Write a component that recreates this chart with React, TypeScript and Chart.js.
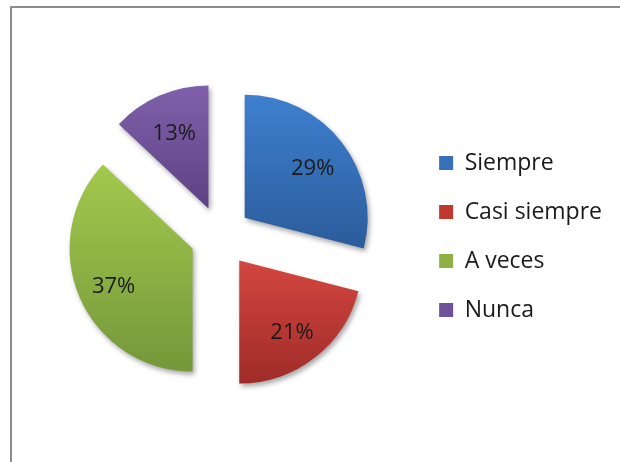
import React, { useEffect, useRef } from "react";
import { Chart, registerables } from "chart.js";

Chart.register(...registerables);

// ---- data ----
const categories = ["Siempre", "Casi siempre", "A veces", "Nunca"];
const values = [29, 21, 37, 13];

// ---- styles ----
const topColors = ["#3e80cf", "#d3473f", "#a4c94d", "#8060ab"];
const bottomColors = ["#2b5c9b", "#9f2b29", "#74983a", "#5c4283"];
const midColors = ["#3670b8", "#c0392f", "#8fb044", "#6e519a"];

const EXPLODE = 30.5;
const LABEL_R = 0.7;
const LABEL_DY = 4;
const FONT = "'Open Sans', 'DejaVu Sans', sans-serif";

const explodePlugin = {
  id: "explodeSlices",
  beforeDatasetsDraw(chart: any) {
    const ctx = chart.ctx;
    const meta = chart.getDatasetMeta(0);
    meta.data.forEach((arc: any, i: number) => {
      const { x, y, startAngle, endAngle, outerRadius } = arc.getProps([
        "x",
        "y",
        "startAngle",
        "endAngle",
        "outerRadius",
      ]);
      const mid = (startAngle + endAngle) / 2;
      const dx = Math.cos(mid) * EXPLODE;
      const dy = Math.sin(mid) * EXPLODE;
      let minY = y;
      let maxY = y;
      for (let k = 0; k <= 60; k++) {
        const a = startAngle + ((endAngle - startAngle) * k) / 60;
        const py = y + Math.sin(a) * outerRadius;
        minY = Math.min(minY, py);
        maxY = Math.max(maxY, py);
      }
      ctx.save();
      ctx.translate(dx, dy);
      const g = ctx.createLinearGradient(0, minY, 0, maxY);
      g.addColorStop(0, topColors[i]);
      g.addColorStop(1, bottomColors[i]);
      ctx.shadowColor = "rgba(0,0,0,0.35)";
      ctx.shadowBlur = 5;
      ctx.shadowOffsetX = 2;
      ctx.shadowOffsetY = 3;
      const orig = arc.options;
      arc.options = { ...orig, backgroundColor: g, borderWidth: 0, offset: 0 };
      arc.draw(ctx);
      arc.options = orig;
      ctx.restore();
    });
    return false;
  },
  afterDraw(chart: any) {
    const ctx = chart.ctx;
    const meta = chart.getDatasetMeta(0);
    const data = chart.data.datasets[0].data as number[];
    const total = data.reduce((s, v) => s + v, 0);
    ctx.save();
    ctx.font = `22px ${FONT}`;
    ctx.fillStyle = "#1b1b1b";
    ctx.textAlign = "center";
    ctx.textBaseline = "middle";
    meta.data.forEach((arc: any, i: number) => {
      const { x, y, startAngle, endAngle, outerRadius } = arc.getProps([
        "x",
        "y",
        "startAngle",
        "endAngle",
        "outerRadius",
      ]);
      const mid = (startAngle + endAngle) / 2;
      const r = EXPLODE + outerRadius * LABEL_R;
      const pct = Math.round((data[i] / total) * 100) + "%";
      ctx.fillText(pct, x + Math.cos(mid) * r, y + Math.sin(mid) * r + LABEL_DY);
    });
    ctx.restore();
  },
};

export default function App() {
  const ref = useRef<HTMLCanvasElement | null>(null);

  useEffect(() => {
    if (!ref.current) return;
    Chart.defaults.font.family = FONT;
    const chart = new Chart(ref.current, {
      type: "pie",
      data: {
        labels: categories,
        datasets: [
          {
            data: values,
            backgroundColor: midColors,
            borderWidth: 0,
          },
        ],
      },
      options: {
        responsive: false,
        animation: false,
        events: [],
        radius: 123,
        layout: { padding: { left: 28, top: 12, right: 8, bottom: 1 } },
        plugins: {
          tooltip: { enabled: false },
          legend: {
            position: "right",
            align: "center",
            labels: {
              boxWidth: 14,
              boxHeight: 14,
              padding: 26,
              color: "#1a1a1a",
              font: { family: FONT, size: 23 },
            },
          },
        },
      } as any,
      plugins: [explodePlugin],
    });
    return () => chart.destroy();
  }, []);

  return (
    <div
      style={{
        position: "absolute",
        left: 0,
        top: 0,
        width: 620,
        height: 462,
        overflow: "hidden",
        background: "#ffffff",
      }}
    >
      <canvas
        ref={ref}
        width={620}
        height={462}
        style={{ position: "absolute", left: 0, top: 0, display: "block" }}
      />
      <div
        style={{
          position: "absolute",
          left: 10,
          top: 6,
          width: 700,
          height: 600,
          border: "2px solid #8c8c8c",
          pointerEvents: "none",
        }}
      />
    </div>
  );
}
